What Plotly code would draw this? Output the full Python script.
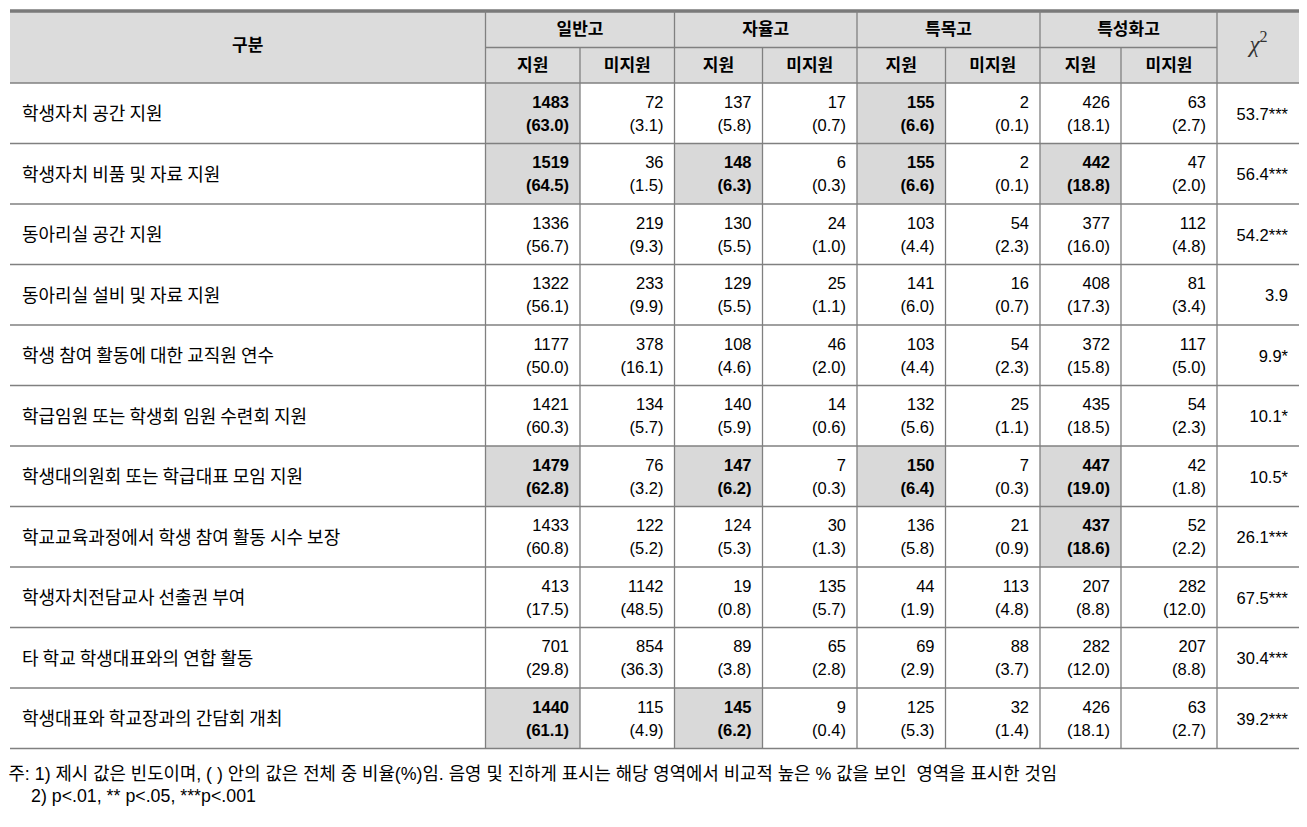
import plotly.graph_objects as go

# ── data ────────────────────────────────────────────────────────────────────
ROW_LABELS = [
    "학생자치 공간 지원",
    "학생자치 비품 및 자료 지원",
    "동아리실 공간 지원",
    "동아리실 설비 및 자료 지원",
    "학생 참여 활동에 대한 교직원 연수",
    "학급임원 또는 학생회 임원 수련회 지원",
    "학생대의원회 또는 학급대표 모임 지원",
    "학교교육과정에서 학생 참여 활동 시수 보장",
    "학생자치전담교사 선출권 부여",
    "타 학교 학생대표와의 연합 활동",
    "학생대표와 학교장과의 간담회 개최",
]
SCHOOL_TYPES = ["일반고", "자율고", "특목고", "특성화고"]
SUB_COLS = ["지원", "미지원"]

# column order: 일반고 지원/미지원, 자율고 지원/미지원, 특목고 지원/미지원, 특성화고 지원/미지원
COUNTS = [
    [1483, 72, 137, 17, 155, 2, 426, 63],
    [1519, 36, 148, 6, 155, 2, 442, 47],
    [1336, 219, 130, 24, 103, 54, 377, 112],
    [1322, 233, 129, 25, 141, 16, 408, 81],
    [1177, 378, 108, 46, 103, 54, 372, 117],
    [1421, 134, 140, 14, 132, 25, 435, 54],
    [1479, 76, 147, 7, 150, 7, 447, 42],
    [1433, 122, 124, 30, 136, 21, 437, 52],
    [413, 1142, 19, 135, 44, 113, 207, 282],
    [701, 854, 89, 65, 69, 88, 282, 207],
    [1440, 115, 145, 9, 125, 32, 426, 63],
]
PCTS = [
    [63.0, 3.1, 5.8, 0.7, 6.6, 0.1, 18.1, 2.7],
    [64.5, 1.5, 6.3, 0.3, 6.6, 0.1, 18.8, 2.0],
    [56.7, 9.3, 5.5, 1.0, 4.4, 2.3, 16.0, 4.8],
    [56.1, 9.9, 5.5, 1.1, 6.0, 0.7, 17.3, 3.4],
    [50.0, 16.1, 4.6, 2.0, 4.4, 2.3, 15.8, 5.0],
    [60.3, 5.7, 5.9, 0.6, 5.6, 1.1, 18.5, 2.3],
    [62.8, 3.2, 6.2, 0.3, 6.4, 0.3, 19.0, 1.8],
    [60.8, 5.2, 5.3, 1.3, 5.8, 0.9, 18.6, 2.2],
    [17.5, 48.5, 0.8, 5.7, 1.9, 4.8, 8.8, 12.0],
    [29.8, 36.3, 3.8, 2.8, 2.9, 3.7, 12.0, 8.8],
    [61.1, 4.9, 6.2, 0.4, 5.3, 1.4, 18.1, 2.7],
]
CHI2 = ["53.7***", "56.4***", "54.2***", "3.9", "9.9*", "10.1*",
        "10.5*", "26.1***", "67.5***", "30.4***", "39.2***"]
# shaded + bold cells: (row, column index in COUNTS)
HIGHLIGHT = {(0, 0), (0, 4),
             (1, 0), (1, 2), (1, 4), (1, 6),
             (6, 0), (6, 2), (6, 4), (6, 6),
             (7, 6),
             (10, 0), (10, 2)}
FOOTNOTES = [
    "주: 1) 제시 값은 빈도이며, ( ) 안의 값은 전체 중 비율(%)임. 음영 및 진하게 표시는 해당 영역에서 비교적 높은 % 값을 보인  영역을 표시한 것임",
    "2) p&lt;.01, ** p&lt;.05, ***p&lt;.001",
]

# ── geometry (screen pixels; the page body adds an 8px margin) ──────────────
W, H = 1307, 827
PAGE_M = 8
LEFT, RIGHT = 10, 1300
COL_EDGES = [485.5, 580, 674.5, 762.5, 857, 945.5, 1040, 1121, 1217]
TOP, HDR_MID, HDR_BOT = 11, 47.5, 83
ROW_H = 60.5
LINE_C = "#808080"
SHADE = "#d9d9d9"
NUM_FONT = "Liberation Sans, Arial"
KR_FONT = "Noto Sans CJK KR"
TXT_DY = 2.5  # plotly draws "middle" text a little above its anchor

n_rows = len(ROW_LABELS)
row_mid = [HDR_BOT + ROW_H * (i + 0.5) + TXT_DY for i in range(n_rows)]
bottom = HDR_BOT + ROW_H * n_rows

shapes = []
# header background
shapes.append(dict(type="rect", x0=LEFT, x1=RIGHT, y0=TOP, y1=HDR_BOT,
                   fillcolor="#dcdcdc", line_width=0, layer="below"))
# shaded cells
for (r, c) in HIGHLIGHT:
    shapes.append(dict(type="rect", x0=COL_EDGES[c], x1=COL_EDGES[c + 1],
                       y0=HDR_BOT + ROW_H * r, y1=HDR_BOT + ROW_H * (r + 1),
                       fillcolor=SHADE, line_width=0, layer="below"))
# horizontal rules
for i in range(n_rows + 1):
    y = HDR_BOT + ROW_H * i
    shapes.append(dict(type="line", x0=LEFT, x1=RIGHT, y0=y, y1=y,
                       line=dict(color=LINE_C, width=1.3), layer="below"))
shapes.append(dict(type="line", x0=COL_EDGES[0], x1=COL_EDGES[-1], y0=HDR_MID, y1=HDR_MID,
                   line=dict(color=LINE_C, width=1.3), layer="below"))
shapes.append(dict(type="line", x0=LEFT, x1=RIGHT, y0=TOP, y1=TOP,
                   line=dict(color="#7a7a7a", width=3.5), layer="below"))
# vertical rules
for k, x in enumerate(COL_EDGES):
    y0 = TOP if k % 2 == 0 else HDR_MID
    shapes.append(dict(type="line", x0=x, x1=x, y0=y0, y1=bottom,
                       line=dict(color=LINE_C, width=1.3), layer="below"))

fig = go.Figure()


def text_trace(x, y, text, pos, family, size, color="#000"):
    return go.Scatter(x=x, y=y, text=text, mode="text", textposition=pos,
                      textfont=dict(family=family, size=size, color=color),
                      hoverinfo="skip", showlegend=False, cliponaxis=False)


# header text
hx, hy, ht = [(LEFT + COL_EDGES[0]) / 2], [(TOP + HDR_BOT) / 2], ["<b>구분</b>"]
for g, name in enumerate(SCHOOL_TYPES):
    hx.append((COL_EDGES[2 * g] + COL_EDGES[2 * g + 2]) / 2)
    hy.append((TOP + HDR_MID) / 2 + 1)
    ht.append(f"<b>{name}</b>")
    for s, sub in enumerate(SUB_COLS):
        hx.append((COL_EDGES[2 * g + s] + COL_EDGES[2 * g + s + 1]) / 2)
        hy.append((HDR_MID + HDR_BOT) / 2 + 1)
        ht.append(f"<b>{sub}</b>")
fig.add_trace(text_trace(hx, hy, ht, "middle center", KR_FONT, 17))
fig.add_trace(text_trace([(COL_EDGES[-1] + RIGHT) / 2], [(TOP + HDR_BOT) / 2 - 1],
                         ["<i>χ</i><sup>2</sup>"], "middle center", "Liberation Serif", 23, "#333"))

# row labels
fig.add_trace(text_trace([22] * n_rows, row_mid, ROW_LABELS, "middle right", KR_FONT, 18))

# numbers: counts on the upper line, percentages on the lower line
cx, cy, ct, px_, py_, pt = [], [], [], [], [], []
for r in range(n_rows):
    for c in range(len(COUNTS[r])):
        a, b = f"{COUNTS[r][c]}", f"({PCTS[r][c]:.1f})"
        if (r, c) in HIGHLIGHT:
            a, b = f"<b>{a}</b>", f"<b>{b}</b>"
        cx.append(COL_EDGES[c + 1] - 11)
        cy.append(row_mid[r] - 12)
        ct.append(a)
        px_.append(COL_EDGES[c + 1] - 11)
        py_.append(row_mid[r] + 11)
        pt.append(b)
fig.add_trace(text_trace(cx, cy, ct, "middle left", NUM_FONT, 16.5))
fig.add_trace(text_trace(px_, py_, pt, "middle left", NUM_FONT, 16.5))
fig.add_trace(text_trace([RIGHT - 12] * n_rows, row_mid, CHI2, "middle left", NUM_FONT, 16.5))

# footnotes
fig.add_trace(text_trace([PAGE_M + 0.5, 31], [bottom + 25 + TXT_DY, bottom + 47 + TXT_DY],
                         FOOTNOTES, "middle right", "Liberation Sans, Noto Sans CJK KR", 17.8))

fig.update_layout(
    width=W - 2 * PAGE_M, height=H - 2 * PAGE_M,
    margin=dict(l=0, r=0, t=0, b=0),
    xaxis=dict(range=[PAGE_M, W - PAGE_M], visible=False, fixedrange=True),
    yaxis=dict(range=[H - PAGE_M, PAGE_M], visible=False, fixedrange=True),
    plot_bgcolor="white", paper_bgcolor="white",
    shapes=shapes,
)
fig.write_html("out.html")
